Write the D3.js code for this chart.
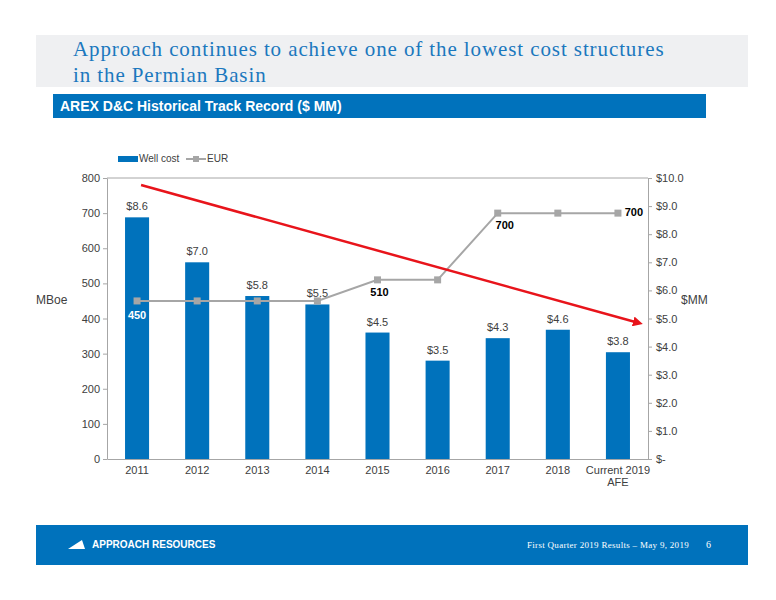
<!DOCTYPE html><html><head><meta charset="utf-8"><script src="https://cdn.jsdelivr.net/npm/d3@7"></script>
<style>body{margin:0;background:#fff}</style></head><body><svg id="c" width="776" height="600"></svg>
<script>
const categories=["2011","2012","2013","2014","2015","2016","2017","2018","Current 2019"];
const wellCost=[8.6,7.0,5.8,5.5,4.5,3.5,4.3,4.6,3.8];
const eur=[450,450,450,450,510,510,700,700,700];
const leftTicks=[0,100,200,300,400,500,600,700,800];
const rightTicks=[0,1,2,3,4,5,6,7,8,9,10];
const svg=d3.select("#c");
const F="Liberation Sans Narrow, Liberation Sans, Arial, sans-serif";
svg.append("rect").attr("x",36).attr("y",35).attr("width",712).attr("height",52).attr("fill","#eff0f2");
svg.append("text").attr("x",73).attr("y",56).attr("font-family","Liberation Serif, serif").attr("font-size",21).attr("letter-spacing",0.9).attr("fill","#1b78be").text("Approach continues to achieve one of the lowest cost structures");
svg.append("text").attr("x",73).attr("y",82).attr("font-family","Liberation Serif, serif").attr("font-size",21).attr("letter-spacing",0.9).attr("fill","#1b78be").text("in the Permian Basin");
svg.append("rect").attr("x",53).attr("y",94).attr("width",653).attr("height",24).attr("fill","#0072bc");
svg.append("text").attr("x",60).attr("y",111).attr("font-family",F).attr("font-weight","bold").attr("font-size",14).attr("fill","#fff").text("AREX D&C Historical Track Record ($ MM)");
svg.append("rect").attr("x",36).attr("y",525).attr("width",712).attr("height",40).attr("fill","#0072bc");
svg.append("path").attr("d","M68,549 L82,540 L85,549 Z").attr("fill","#fff");
svg.append("text").attr("x",92).attr("y",548).attr("font-family",F).attr("font-weight","bold").attr("font-size",10).attr("fill","#fff").text("APPROACH RESOURCES");
svg.append("text").attr("x",689).attr("y",548).attr("text-anchor","end").attr("font-family","Liberation Serif, serif").attr("font-size",9).attr("letter-spacing",0.3).attr("fill","#fff").text("First Quarter 2019 Results – May 9, 2019");
svg.append("text").attr("x",706).attr("y",548).attr("font-family","Liberation Serif, serif").attr("font-size",10).attr("fill","#fff").text("6");

const x0=107,x1=648,yT=178,yB=459;
const x=d3.scaleBand().domain(categories).range([x0,x1]).paddingInner(0.6).paddingOuter(0.3);
const yl=d3.scaleLinear().domain([0,800]).range([yB,yT]);
const yr=d3.scaleLinear().domain([0,10]).range([yB,yT]);
const g=svg.append("g").attr("font-family",F);
g.append("line").attr("x1",x0).attr("x2",x1).attr("y1",yT).attr("y2",yT).attr("stroke","#a6a6a6");
const la=g.append("g").attr("transform",`translate(${x0},0)`).call(d3.axisLeft(yl).tickValues(leftTicks).tickSize(4).tickSizeOuter(0));
const ra=g.append("g").attr("transform",`translate(${x1},0)`).call(d3.axisRight(yr).tickValues(rightTicks).tickSize(4).tickSizeOuter(0).tickFormat(d=>d===0?"$-":"$"+d.toFixed(1)));
const ba=g.append("g").attr("transform",`translate(0,${yB})`).call(d3.axisBottom(x).tickSize(0).tickSizeOuter(0));
[la,ra,ba].forEach(a=>{a.selectAll("path,line").attr("stroke","#a6a6a6");a.selectAll("text").attr("font-family",F).attr("font-size",11).attr("fill","#404040");});
ra.selectAll("text").attr("x",8);
ba.selectAll("text").attr("dy","1.1em").each(function(d){if(d==="Current 2019"){const t=d3.select(this);t.text(null);t.append("tspan").attr("x",0).text("Current 2019");t.append("tspan").attr("x",0).attr("dy","1.1em").text("AFE");}});
g.append("text").attr("x",36).attr("y",304).attr("font-size",12).attr("fill","#404040").text("MBoe");
g.append("text").attr("x",681).attr("y",304).attr("font-size",12).attr("fill","#404040").text("$MM");
g.selectAll(".bar").data(categories).join("rect").attr("x",d=>x(d)).attr("width",x.bandwidth()).attr("y",(d,i)=>yr(wellCost[i])).attr("height",(d,i)=>yB-yr(wellCost[i])).attr("fill","#0072bc");
g.selectAll(".bl").data(categories).join("text").attr("x",d=>x(d)+x.bandwidth()/2).attr("y",(d,i)=>yr(wellCost[i])-7).attr("text-anchor","middle").attr("font-size",11).attr("fill","#404040").text((d,i)=>"$"+wellCost[i].toFixed(1));
const line=d3.line().x((d,i)=>x(categories[i])+x.bandwidth()/2).y(d=>yl(d));
g.append("path").datum(eur).attr("d",line).attr("fill","none").attr("stroke","#a6a6a6").attr("stroke-width",2);
g.selectAll(".pt").data(eur).join("rect").attr("x",(d,i)=>x(categories[i])+x.bandwidth()/2-3.5).attr("y",d=>yl(d)-3.5).attr("width",7).attr("height",7).attr("fill","#a6a6a6");
const eLab=[[0,"#fff",0,18],[4,"#000",2,16],[6,"#000",7,16],[8,"#000",16,3]];
eLab.forEach(([i,c,dx,dy])=>g.append("text").attr("x",x(categories[i])+x.bandwidth()/2+dx).attr("y",yl(eur[i])+dy).attr("text-anchor","middle").attr("font-size",11).attr("font-weight","bold").attr("fill",c).text(eur[i]));
svg.append("defs").append("marker").attr("id","ah").attr("viewBox","0 0 10 10").attr("refX",5).attr("refY",5).attr("markerWidth",4).attr("markerHeight",4).attr("orient","auto").append("path").attr("d","M0,0L10,5L0,10Z").attr("fill","#e8141b");
g.append("line").attr("x1",x(categories[0])+x.bandwidth()/2+4).attr("y1",yr(9.75)).attr("x2",x1-10).attr("y2",yr(4.85)).attr("stroke","#e8141b").attr("stroke-width",2.5).attr("marker-end","url(#ah)");
const lg=g.append("g");
lg.append("rect").attr("x",118).attr("y",156).attr("width",20).attr("height",6).attr("fill","#0072bc");
lg.append("text").attr("x",139).attr("y",162).attr("font-size",10).attr("fill","#404040").text("Well cost");
lg.append("line").attr("x1",186).attr("x2",206).attr("y1",159).attr("y2",159).attr("stroke","#a6a6a6").attr("stroke-width",2);
lg.append("rect").attr("x",193).attr("y",156).attr("width",6).attr("height",6).attr("fill","#a6a6a6");
lg.append("text").attr("x",207).attr("y",162).attr("font-size",10).attr("fill","#404040").text("EUR");
</script></body></html>
